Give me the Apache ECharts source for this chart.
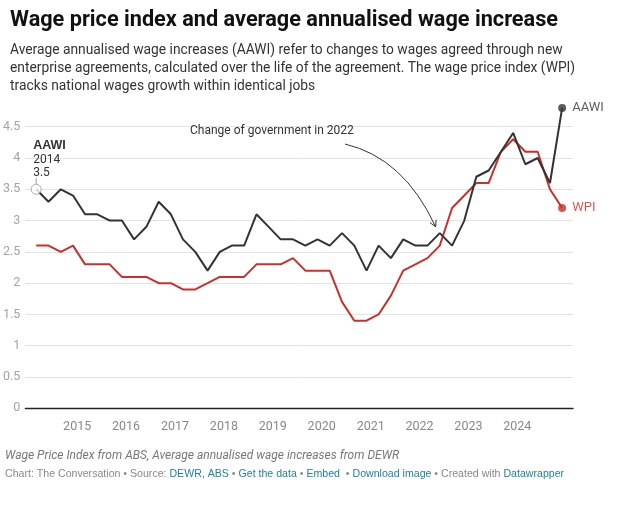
<!DOCTYPE html>
<html>
<head>
<meta charset="utf-8">
<script src="https://cdn.jsdelivr.net/npm/echarts@6/dist/echarts.min.js"></script>
<style>
  html, body { margin: 0; padding: 0; background: #fff; }
  #chart { width: 640px; height: 506px; }
</style>
</head>
<body>
<div id="chart"></div>
<script>
// quarterly data, Mar 2014 - Dec 2024
var quarterMonths = ['03', '06', '09', '12'];
var dates = [];
for (var y = 2014; y <= 2024; y++) {
  quarterMonths.forEach(function (m) { dates.push(y + '-' + m + '-01'); });
}

var aawi = [3.5, 3.3, 3.5, 3.4, 3.1, 3.1, 3.0, 3.0, 2.7, 2.9, 3.3, 3.1, 2.7, 2.5, 2.2, 2.5,
  2.6, 2.6, 3.1, 2.9, 2.7, 2.7, 2.6, 2.7, 2.6, 2.8, 2.6, 2.2, 2.6, 2.4, 2.7, 2.6,
  2.6, 2.8, 2.6, 3.0, 3.7, 3.8, 4.1, 4.4, 3.9, 4.0, 3.6, 4.8];
var wpi = [2.6, 2.6, 2.5, 2.6, 2.3, 2.3, 2.3, 2.1, 2.1, 2.1, 2.0, 2.0, 1.9, 1.9, 2.0, 2.1,
  2.1, 2.1, 2.3, 2.3, 2.3, 2.4, 2.2, 2.2, 2.2, 1.7, 1.4, 1.4, 1.5, 1.8, 2.2, 2.3,
  2.4, 2.6, 3.2, 3.4, 3.6, 3.6, 4.1, 4.3, 4.1, 4.1, 3.5, 3.2];
var yTicks = [0, 0.5, 1, 1.5, 2, 2.5, 3, 3.5, 4, 4.5];

var FONT = 'Roboto, "Noto Sans", sans-serif';
var BLACK = '#333333';
var RED = '#c9302b';

function pairs(vals) {
  return vals.map(function (v, i) { return [dates[i], v]; });
}
var last = dates.length - 1;

var myChart = echarts.init(document.getElementById('chart'), null, { renderer: 'canvas' });

myChart.setOption({
  animation: false,
  textStyle: { fontFamily: FONT },
  title: {
    left: 5, top: 5,
    text: 'Wage price index and average annualised wage increase',
    textStyle: { fontSize: 21.7, fontWeight: 'bold', color: '#111', fontFamily: FONT },
    subtext: 'Average annualised wage increases (AAWI) refer to changes to wages agreed through new\nenterprise agreements, calculated over the life of the agreement. The wage price index (WPI)\ntracks national wages growth within identical jobs',
    subtextStyle: { fontSize: 13.8, color: '#333', lineHeight: 18, fontFamily: FONT },
    itemGap: 10
  },
  grid: { left: 24, right: 67, top: 126.7, bottom: 97.7 },
  xAxis: {
    type: 'time',
    min: new Date(2013, 11, 10).getTime(),
    max: new Date(2025, 1, 20).getTime(),
    minInterval: 365 * 24 * 3600 * 1000,
    maxInterval: 366 * 24 * 3600 * 1000,
    axisLine: { show: true, lineStyle: { color: '#222', width: 1.3 } },
    axisTick: { show: false },
    splitLine: { show: false },
    axisLabel: {
      color: '#888', fontSize: 12.5, margin: 12,
      formatter: function (val) {
        var d = new Date(val);
        var yr = d.getFullYear();
        if (d.getMonth() !== 0 || yr < 2015 || yr > 2024) return '';
        return String(yr);
      }
    }
  },
  yAxis: {
    type: 'value', min: 0, max: 4.5, interval: 0.5,
    axisLine: { show: false },
    axisTick: { show: false },
    splitLine: { lineStyle: { color: '#e3e3e3', width: 1 } },
    axisLabel: {
      color: '#a3a3a3', fontSize: 12.5, margin: 5,
      formatter: function (v) { return yTicks.indexOf(v) >= 0 ? String(v) : ''; }
    }
  },
  series: [
    {
      name: 'WPI', type: 'line', data: pairs(wpi), clip: false,
      symbol: 'none', lineStyle: { color: RED, width: 2 }, z: 3
    },
    {
      name: 'AAWI', type: 'line', data: pairs(aawi), clip: false,
      symbol: 'none', lineStyle: { color: BLACK, width: 2 }, z: 4
    },
    {
      type: 'scatter', clip: false, z: 5, symbolSize: 8,
      data: [
        { value: [dates[last], aawi[last]], itemStyle: { color: BLACK },
          label: { show: true, position: 'right', formatter: 'AAWI', color: BLACK, fontSize: 13, distance: 6 } },
        { value: [dates[last], wpi[last]], itemStyle: { color: RED },
          label: { show: true, position: 'right', formatter: 'WPI', color: RED, fontSize: 13, distance: 6 } }
      ]
    },
    {
      type: 'scatter', clip: false, z: 6, symbolSize: 10,
      data: [[dates[0], aawi[0]]],
      itemStyle: { color: '#fff', borderColor: '#999', borderWidth: 1 }
    }
  ]
});

// annotations
var p0 = myChart.convertToPixel({ gridIndex: 0 }, [dates[0], aawi[0]]);
var a0 = [345, 144], a2 = myChart.convertToPixel({ gridIndex: 0 }, ['2022-05-01', 2.9]);
var ac = [404, 158];
var dx = a2[0] - ac[0], dy = a2[1] - ac[1], len = Math.sqrt(dx * dx + dy * dy);
dx /= len; dy /= len;
function headPt(angle) {
  var c = Math.cos(angle), s = Math.sin(angle);
  var rx = -(dx * c - dy * s), ry = -(dx * s + dy * c);
  return [a2[0] + rx * 7, a2[1] + ry * 7];
}
var h1 = headPt(0.5), h2 = headPt(-0.5);

myChart.setOption({
  graphic: [
    { type: 'line', shape: { x1: p0[0], y1: p0[1] - 5, x2: p0[0], y2: p0[1] - 11 },
      style: { stroke: '#999', lineWidth: 1 } },
    { type: 'text', left: p0[0] - 3, top: p0[1] - 50,
      style: { text: '{b|AAWI}\n2014\n3.5', font: '12px ' + FONT, fill: '#333', lineHeight: 13.5,
        rich: { b: { fontWeight: 'bold', fontSize: 12.5, fill: '#333' } } } },
    { type: 'text', left: 190, top: 125,
      style: { text: 'Change of government in 2022', font: '12px ' + FONT, fill: '#333' } },
    { type: 'bezierCurve',
      shape: { x1: a0[0], y1: a0[1], x2: a2[0], y2: a2[1], cpx1: ac[0], cpy1: ac[1] },
      style: { stroke: '#333', lineWidth: 1, fill: null } },
    { type: 'polyline', shape: { points: [h1, a2, h2] },
      style: { stroke: '#333', lineWidth: 1, fill: null } },
    { type: 'text', left: 5, top: 450,
      style: { text: 'Wage Price Index from ABS, Average annualised wage increases from DEWR',
        font: 'italic 12px ' + FONT, fill: '#777' } },
    { type: 'text', left: 5, top: 469,
      style: {
        text: '{g|Chart: The Conversation • Source: }{b|DEWR, ABS}{g| • }{b|Get the data}{g| • }{b|Embed}{g|  • }{b|Download image}{g| • Created with }{b|Datawrapper}',
        font: '10.6px ' + FONT,
        rich: { g: { fill: '#888', fontSize: 10.6 }, b: { fill: '#1d81a2', fontSize: 10.6 } }
      } }
  ]
});
</script>
</body>
</html>
